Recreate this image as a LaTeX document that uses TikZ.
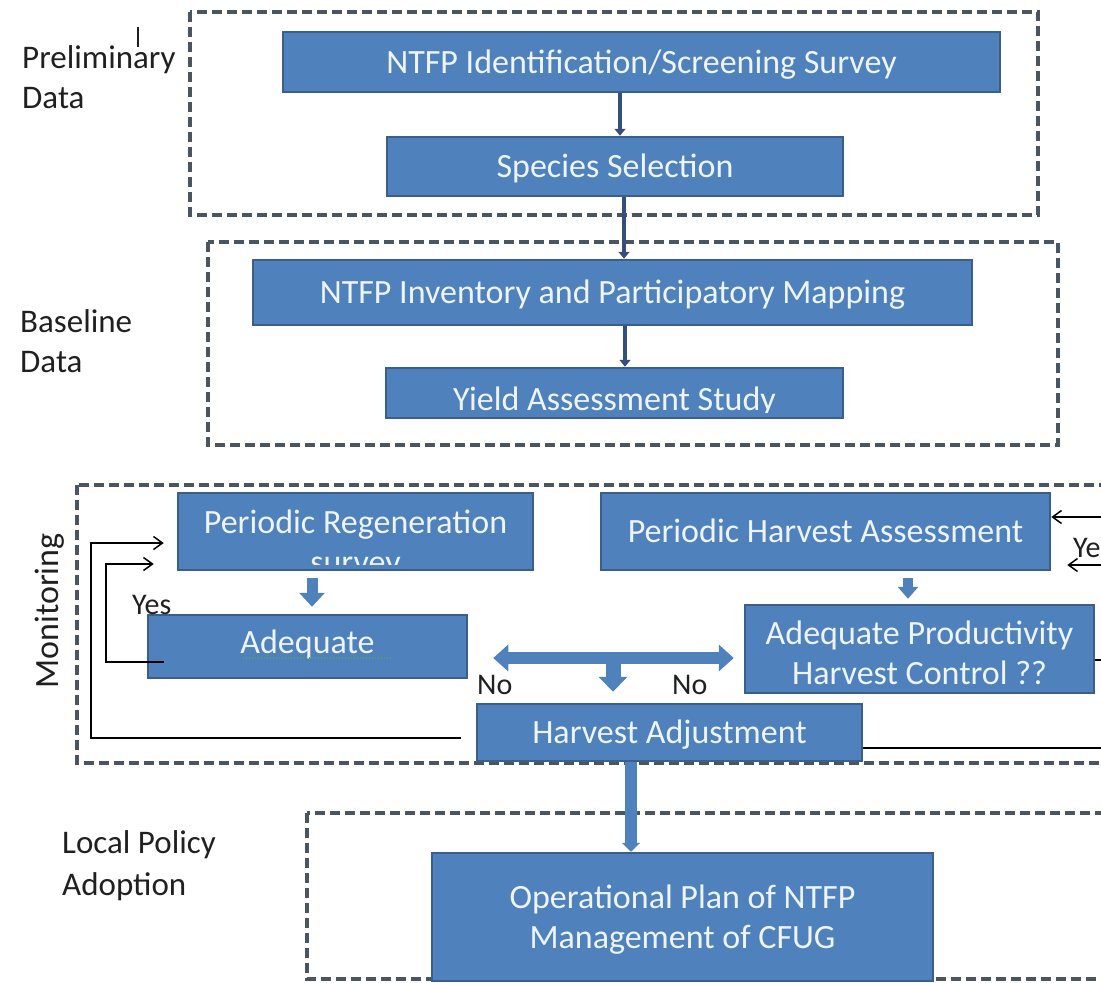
\documentclass[tikz,border=0pt]{standalone}
\usepackage{fontspec}
\setmainfont{Carlito}
\usetikzlibrary{arrows.meta,calc}
\definecolor{boxfill}{HTML}{4F81BD}
\definecolor{boxline}{HTML}{3A5F8C}
\definecolor{boxtext}{HTML}{EEF4FB}
\definecolor{framecol}{HTML}{4A5560}
\definecolor{linkcol}{HTML}{34507A}
\definecolor{labelcol}{HTML}{202020}
\definecolor{squiggle}{HTML}{5AA05A}
\tikzset{
 frame/.style={draw=framecol, line width=3.5pt, dash pattern=on 10pt off 5pt},
 plainbox/.style={draw=boxline, fill=boxfill, line width=2.5pt, inner sep=0pt},
 box/.style={plainbox, text=boxtext, font=\fontsize{34}{40}\selectfont, align=center, text height=22pt, text depth=0pt},
 boxlabel/.style={inner sep=0pt, text=boxtext, font=\fontsize{34}{40}\selectfont, align=center},
 sidelabel/.style={inner sep=0pt, text=labelcol, font=\fontsize{33}{40}\selectfont, align=left, text height=61.3pt, text depth=0pt, anchor=west},
 answer/.style={inner sep=0pt, text=labelcol, font=\fontsize{30}{36}\selectfont, text height=19.3pt, text depth=0pt, anchor=west},
 link/.style={draw=linkcol, line width=4pt, -{Triangle[length=7pt,width=11pt]}},
 loopline/.style={draw=black, line width=1.5pt, -{Straight Barb[length=9pt,width=13pt]}},
 feedline/.style={draw=black, line width=1.5pt},
 blk/.style={draw=boxfill}
}
\begin{document}
\begin{tikzpicture}[x=1pt,y=-1pt]
\useasboundingbox (0,0) rectangle (1101,983);
\clip (0,0) rectangle (1101,983);

% group frames
\draw[frame] (190,12) rectangle (1038,215);
\draw[frame] (208,242) rectangle (1058,445);
\draw[frame] (77,485) rectangle (1125,763);
\draw[frame] (307,813) rectangle (1125,979);

% side labels
\node[sidelabel] (lprelim) at (22,78) {Preliminary\\Data};
\draw[labelcol, line width=1.5pt] (138,27) -- (138,47);
\node[sidelabel] (lbase) at (20,342) {Baseline\\Data};
\node[inner sep=0pt, text=labelcol, font=\fontsize{34}{40}\selectfont, rotate=90] (lmon) at (50,611) {Monitoring};
\node[sidelabel, font=\fontsize{33}{42}\selectfont, text height=63.3pt] (llocal) at (62,864) {Local Policy\\Adoption};

% preliminary / baseline boxes
\node[box, minimum width=717pt, minimum height=60pt] (box1) at (641.5,62) {NTFP Identification/Screening Survey};
\node[box, minimum width=456pt, minimum height=59pt] (box2) at (615,166.5) {Species Selection};
\node[box, minimum width=719pt, minimum height=65pt] (box3) at (612.5,292.5) {NTFP Inventory and Participatory Mapping};
\node[plainbox, minimum width=457pt, minimum height=50pt] (box4) at (614.5,393) {};
\begin{scope}
 \clip (box4.north west) rectangle ($(box4.south east)+(0,-7)$);
 \node[boxlabel, text height=34pt, text depth=0pt] (box4text) at (box4.center) {Yield Assessment Study};
\end{scope}

\draw[link] ($(box2.north |- box1.south)+(5,0)$) -- ($(box2.north)+(5,0)$);
\draw[link] ($(box2.south)+(9,0)$) -- ($(box2.south |- box3.north)+(9,0)$);
\draw[link] ($(box4.north |- box3.south)+(10.5,0)$) -- ($(box4.north)+(10.5,0)$);

% monitoring boxes
\node[plainbox, minimum width=355pt, minimum height=77pt] (pr) at (355.5,531.5) {};
\begin{scope}
 \clip ([xshift=1.25pt]pr.north west) rectangle ($(pr.south east)+(-1.25,-7)$);
 \node[boxlabel, text height=62pt, text depth=0pt] (prtext) at ($(pr.center)+(0,10.5)$) {Periodic Regeneration\\survey};
\end{scope}
\node[box, minimum width=319pt, minimum height=63pt, text depth=8pt] (ad) at (307.5,646.5) {Adequate};
\draw[squiggle, line width=1.2pt, dash pattern=on 1.5pt off 1.5pt] ($(ad.center)+(-65,11.5)$) -- ($(ad.center)+(85,11.5)$);
\node[box, minimum width=449pt, minimum height=77pt] (ph) at (825.5,531.5) {Periodic Harvest Assessment};
\node[box, minimum width=349pt, minimum height=88pt, text height=70pt] (ap) at (919.5,649) {Adequate Productivity\\Harvest Control ??};
\node[box, minimum width=385pt, minimum height=57pt] (ha) at (669.5,732.5) {Harvest Adjustment};

% local policy box
\node[box, minimum width=501pt, minimum height=128pt, text height=62pt] (op) at (682.5,917) {Operational Plan of NTFP\\Management of CFUG};

% block arrows
\draw[blk, line width=11pt, -{Triangle[length=14pt,width=25pt]}] ($(pr.south)+(-43.5,7)$) -- ($(ad.north)+(4.5,-7)$);
\draw[blk, line width=10pt, -{Triangle[length=12pt,width=20pt]}] ($(ph.south)+(82.5,7)$) -- ($(ap.north)+(-11.5,-5)$);
\draw[blk, line width=12pt, {Triangle[length=15pt,width=26pt]}-{Triangle[length=15pt,width=26pt]}] ($(ad.east)+(25,11.5)$) -- ($(ap.west)+(-10,9)$);
\draw[blk, line width=15pt, -{Triangle[length=15pt,width=28pt]}] ($(ha.north)+(-56.5,-46)$) -- ($(ha.north)+(-56.5,-11)$);
\draw[blk, line width=12pt, -{Triangle[length=9pt,width=18pt]}] ($(ha.south)+(-38.5,0)$) -- ($(op.north)+(-51.5,0)$);

% answers
\node[answer] (yesl) at (132,605) {Yes};
\node[answer] (yesr) at (1073,548) {Yes};
\node[answer] (nol) at (477,685) {No};
\node[answer] (nor) at (672,685) {No};

% feedback loops
\draw[loopline] ($(ha.west)+(-15,5.5)$) -| ($(pr.west)+(-86,11.5)$) -- ($(pr.west)+(-13,11.5)$);
\draw[loopline] ($(ad.west)+(17,15.5)$) -| ($(pr.west)+(-71,32.5)$) -- ($(pr.west)+(-23,32.5)$);

\coordinate (rin1) at (1125,517);
\coordinate (rin2) at (1125,565);
\coordinate (rout1) at (1125,660);
\coordinate (rout2) at (1125,748);
\draw[loopline] (rin1) -- (rin1 -| ph.east);
\draw[loopline] (rin2) -- ($(rin2 -| ph.east)+(16,0)$);
\draw[feedline] ($(ap.east)+(0,11)$) -- (rout1);
\draw[feedline] ($(ha.east)+(0,15.5)$) -- (rout2);
\end{tikzpicture}
\end{document}
